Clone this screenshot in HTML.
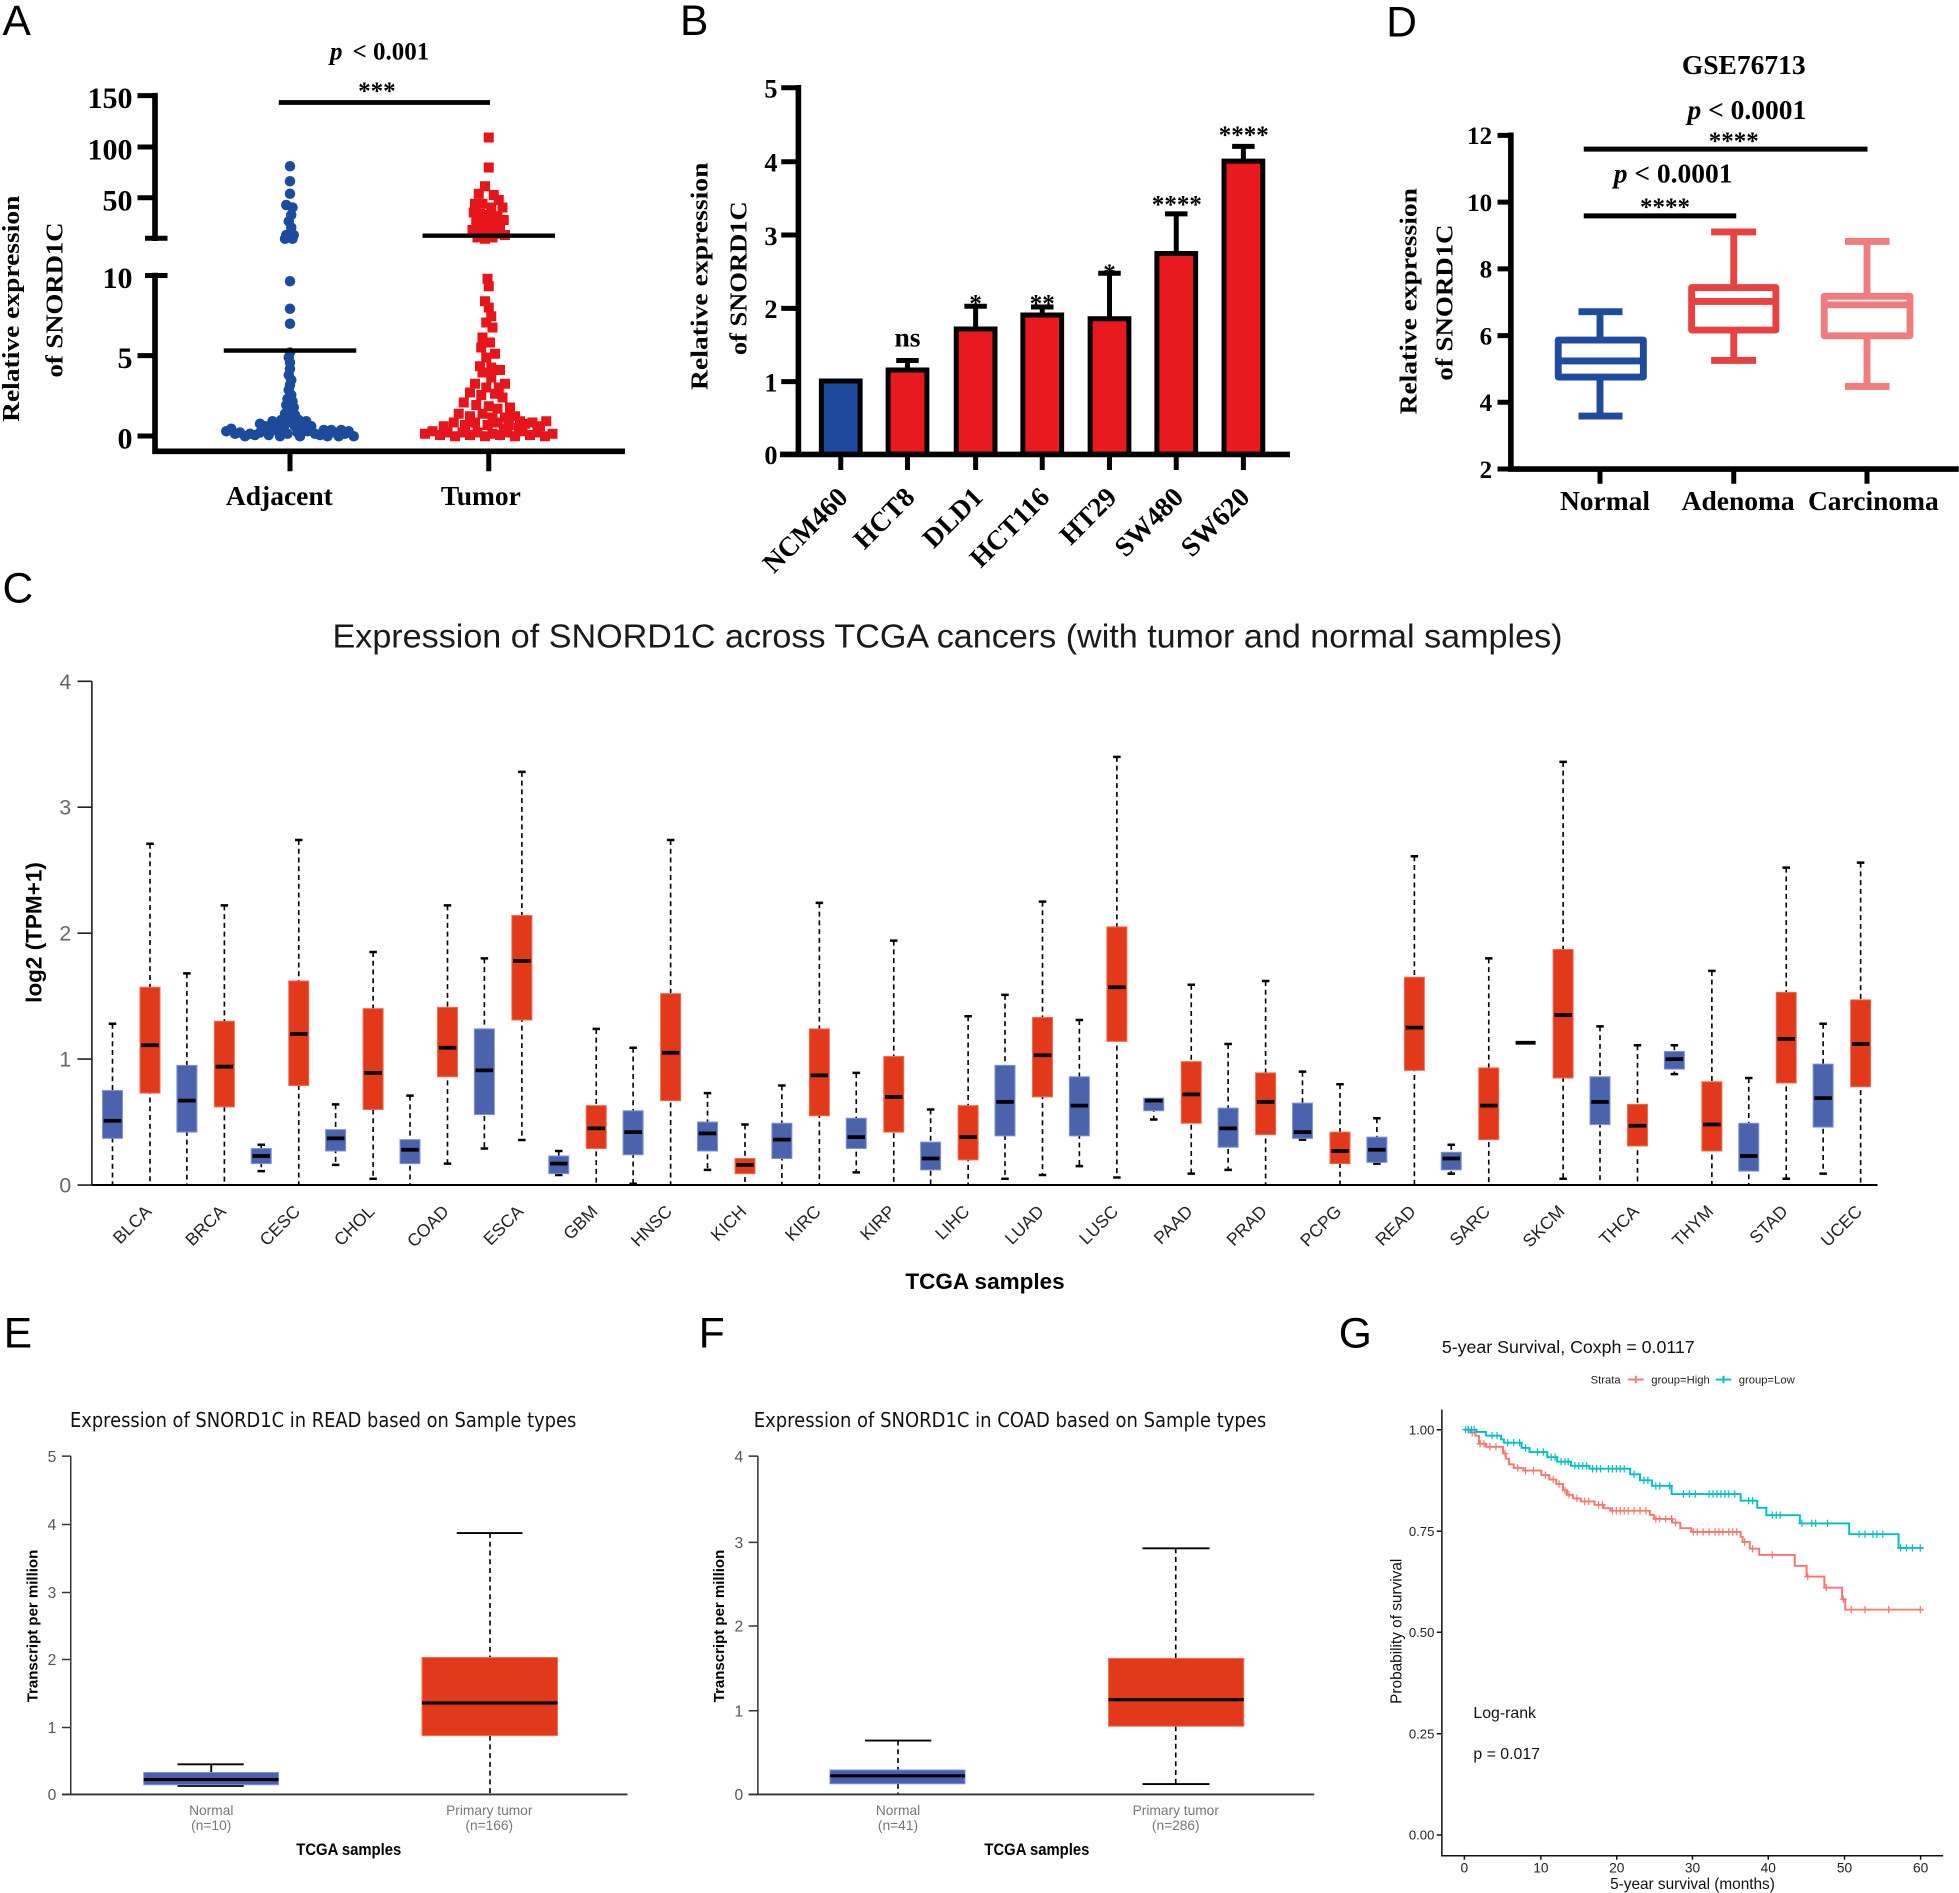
<!DOCTYPE html>
<html><head><meta charset="utf-8"><style>
html,body{margin:0;padding:0;background:#fff;}
svg{display:block}
.sb{font-family:"Liberation Serif",serif;font-weight:bold}
.ss{font-family:"Liberation Sans",sans-serif}
.dj{font-family:"DejaVu Sans","Liberation Sans",sans-serif}
</style></head><body>
<svg xmlns="http://www.w3.org/2000/svg" xmlns:xlink="http://www.w3.org/1999/xlink" width="1959" height="1893" viewBox="0 0 1567.2 1514.4">
<rect width="1567.2" height="1514.4" fill="#fff"/>
<defs><path id="cr" d="M-9,0H9M0,-10V10"/></defs>

<!-- panel letters -->
<g class="ss" font-size="34" fill="#000">
<text x="2" y="28">A</text><text x="544" y="28">B</text><text x="1109" y="29">D</text>
<text x="2" y="482">C</text><text x="3" y="1078">E</text><text x="559" y="1078">F</text><text x="1071" y="1078">G</text>
</g>

<!-- ================= PANEL A ================= -->
<g fill="#1c4b9c">
<circle cx="232" cy="133" r="4.2"/><circle cx="232" cy="145" r="4.2"/><circle cx="232" cy="155" r="4.2"/><circle cx="229" cy="164" r="4.2"/><circle cx="234" cy="166" r="4.2"/><circle cx="233" cy="172" r="4.2"/><circle cx="231" cy="177" r="4.2"/><circle cx="233" cy="182" r="4.2"/><circle cx="229" cy="188" r="4.2"/><circle cx="235" cy="188" r="4.2"/><circle cx="228" cy="191" r="4.2"/><circle cx="234" cy="191" r="4.2"/>
<circle cx="232" cy="225" r="4.2"/><circle cx="232" cy="247" r="4.2"/><circle cx="232" cy="259" r="4.2"/>
<circle cx="232" cy="282" r="4.2"/><circle cx="231" cy="286" r="4.2"/><circle cx="232" cy="290" r="4.2"/><circle cx="232" cy="295" r="4.2"/><circle cx="231" cy="300" r="4.2"/><circle cx="233" cy="304" r="4.2"/><circle cx="232" cy="308" r="4.2"/><circle cx="231" cy="312" r="4.2"/><circle cx="233" cy="316" r="4.2"/><circle cx="230" cy="319" r="4.2"/><circle cx="234" cy="321" r="4.2"/><circle cx="229" cy="324" r="4.2"/><circle cx="235" cy="326" r="4.2"/><circle cx="233" cy="329" r="4.2"/><circle cx="228" cy="331" r="4.2"/><circle cx="236" cy="332" r="4.2"/><circle cx="230" cy="334" r="4.2"/><circle cx="234" cy="336" r="4.2"/>
<circle cx="181" cy="345" r="4.2"/><circle cx="185" cy="343" r="4.2"/><circle cx="188" cy="347" r="4.2"/><circle cx="192" cy="346" r="4.2"/><circle cx="196" cy="349" r="4.2"/><circle cx="200" cy="347" r="4.2"/><circle cx="204" cy="348" r="4.2"/><circle cx="208" cy="346" r="4.2"/><circle cx="208" cy="339" r="4.2"/><circle cx="212" cy="341" r="4.2"/><circle cx="215" cy="348" r="4.2"/><circle cx="219" cy="344" r="4.2"/><circle cx="222" cy="342" r="4.2"/><circle cx="224" cy="349" r="4.2"/><circle cx="226" cy="345" r="4.2"/><circle cx="228" cy="340" r="4.2"/><circle cx="230" cy="347" r="4.2"/><circle cx="236" cy="341" r="4.2"/><circle cx="238" cy="346" r="4.2"/><circle cx="240" cy="349" r="4.2"/><circle cx="242" cy="343" r="4.2"/><circle cx="245" cy="337" r="4.2"/><circle cx="246" cy="345" r="4.2"/><circle cx="249" cy="341" r="4.2"/><circle cx="252" cy="347" r="4.2"/><circle cx="256" cy="348" r="4.2"/><circle cx="259" cy="344" r="4.2"/><circle cx="262" cy="349" r="4.2"/><circle cx="265" cy="344" r="4.2"/><circle cx="268" cy="346" r="4.2"/><circle cx="271" cy="349" r="4.2"/><circle cx="273" cy="344" r="4.2"/><circle cx="276" cy="347" r="4.2"/><circle cx="279" cy="345" r="4.2"/><circle cx="283" cy="349" r="4.2"/><circle cx="218" cy="337" r="4.2"/><circle cx="225" cy="336" r="4.2"/><circle cx="239" cy="336" r="4.2"/><circle cx="244" cy="339" r="4.2"/>
</g>
<g fill="#e8141c">
<rect x="387" y="106" width="8" height="8"/><rect x="387" y="130" width="8" height="8"/><rect x="384" y="145" width="8" height="8"/><rect x="379" y="151" width="8" height="8"/><rect x="391" y="152" width="8" height="8"/><rect x="395" y="156" width="8" height="8"/><rect x="376" y="159" width="8" height="8"/><rect x="382" y="159" width="8" height="8"/><rect x="389" y="162" width="8" height="8"/><rect x="398" y="162" width="8" height="8"/><rect x="375" y="166" width="8" height="8"/><rect x="380" y="167" width="8" height="8"/><rect x="387" y="168" width="8" height="8"/><rect x="394" y="169" width="8" height="8"/><rect x="399" y="172" width="8" height="8"/><rect x="377" y="174" width="8" height="8"/><rect x="384" y="174" width="8" height="8"/><rect x="391" y="176" width="8" height="8"/><rect x="396" y="178" width="8" height="8"/><rect x="374" y="180" width="8" height="8"/><rect x="381" y="181" width="8" height="8"/><rect x="388" y="182" width="8" height="8"/><rect x="395" y="183" width="8" height="8"/><rect x="400" y="184" width="8" height="8"/><rect x="378" y="186" width="8" height="8"/><rect x="384" y="187" width="8" height="8"/><rect x="390" y="186" width="8" height="8"/>
<rect x="386" y="219" width="8" height="8"/><rect x="387" y="225" width="8" height="8"/><rect x="384" y="237" width="8" height="8"/><rect x="387" y="242" width="8" height="8"/><rect x="389" y="249" width="8" height="8"/><rect x="385" y="254" width="8" height="8"/><rect x="390" y="258" width="8" height="8"/><rect x="382" y="266" width="8" height="8"/><rect x="388" y="270" width="8" height="8"/><rect x="381" y="274" width="8" height="8"/><rect x="392" y="279" width="8" height="8"/><rect x="385" y="282" width="8" height="8"/><rect x="380" y="289" width="8" height="8"/><rect x="389" y="290" width="8" height="8"/><rect x="396" y="292" width="8" height="8"/><rect x="382" y="294" width="8" height="8"/><rect x="389" y="298" width="8" height="8"/><rect x="376" y="303" width="8" height="8"/><rect x="385" y="306" width="8" height="8"/><rect x="395" y="306" width="8" height="8"/><rect x="400" y="303" width="8" height="8"/><rect x="372" y="310" width="8" height="8"/><rect x="381" y="312" width="8" height="8"/><rect x="392" y="311" width="8" height="8"/><rect x="398" y="314" width="8" height="8"/><rect x="367" y="318" width="8" height="8"/><rect x="377" y="320" width="8" height="8"/><rect x="387" y="321" width="8" height="8"/><rect x="394" y="323" width="8" height="8"/><rect x="404" y="322" width="8" height="8"/><rect x="363" y="327" width="8" height="8"/><rect x="372" y="329" width="8" height="8"/><rect x="382" y="327" width="8" height="8"/><rect x="390" y="330" width="8" height="8"/><rect x="400" y="330" width="8" height="8"/><rect x="408" y="329" width="8" height="8"/><rect x="412" y="333" width="8" height="8"/><rect x="359" y="334" width="8" height="8"/><rect x="368" y="336" width="8" height="8"/><rect x="376" y="334" width="8" height="8"/><rect x="386" y="336" width="8" height="8"/><rect x="394" y="334" width="8" height="8"/><rect x="403" y="336" width="8" height="8"/><rect x="416" y="335" width="8" height="8"/><rect x="422" y="334" width="8" height="8"/><rect x="428" y="337" width="8" height="8"/><rect x="433" y="333" width="8" height="8"/>
<rect x="336" y="343" width="8" height="8"/><rect x="342" y="341" width="8" height="8"/><rect x="348" y="344" width="8" height="8"/><rect x="354" y="342" width="8" height="8"/><rect x="360" y="345" width="8" height="8"/><rect x="366" y="342" width="8" height="8"/><rect x="372" y="344" width="8" height="8"/><rect x="378" y="342" width="8" height="8"/><rect x="384" y="345" width="8" height="8"/><rect x="390" y="343" width="8" height="8"/><rect x="396" y="344" width="8" height="8"/><rect x="402" y="342" width="8" height="8"/><rect x="408" y="345" width="8" height="8"/><rect x="414" y="341" width="8" height="8"/><rect x="420" y="344" width="8" height="8"/><rect x="426" y="342" width="8" height="8"/><rect x="432" y="345" width="8" height="8"/><rect x="438" y="343" width="8" height="8"/><rect x="351" y="337" width="8" height="8"/><rect x="399" y="339" width="8" height="8"/><rect x="411" y="338" width="8" height="8"/>
</g>
<g stroke="#000" fill="none">
<path d="M124,74.3V192.8M124,218.2V363.3M121.8,361H500" stroke-width="4.5"/>
<path d="M110,76.5H124M110,117.6H124M110,158.2H124M116,190.6H134M116,220.4H134M110,284.5H124M110,348.8H124M232,361V377M391,361V377" stroke-width="4"/>
<path d="M223,82H392" stroke-width="3.8"/>
<path d="M179,280.4H285M338,188.5H444" stroke-width="3.5"/>
</g>
<g class="sb" font-size="24" text-anchor="end" fill="#000">
<text x="106" y="86.5">150</text><text x="106" y="127.6">100</text><text x="106" y="168.2">50</text><text x="106" y="230.4">10</text><text x="106" y="294.5">5</text><text x="106" y="358.8">0</text>
</g>
<text class="sb" font-size="20" x="264" y="47.5"><tspan font-style="italic">p</tspan><tspan dx="8">&lt; 0.001</tspan></text>
<text class="sb" font-size="20" x="301.5" y="79" text-anchor="middle">***</text>
<g class="sb" font-size="22" text-anchor="middle">
<text x="223.5" y="404">Adjacent</text><text x="384.7" y="404">Tumor</text>
<text transform="translate(15,247) rotate(-90)" font-size="19" textLength="181" lengthAdjust="spacingAndGlyphs">Relative expression</text>
<text transform="translate(50,240) rotate(-90)" font-size="19" textLength="124" lengthAdjust="spacingAndGlyphs">of SNORD1C</text>
</g>

<!-- ================= PANEL B ================= -->
<g stroke="#000" stroke-width="4">
<rect x="657.1" y="304.8" width="31" height="58.7" fill="#1e4a9e"/>
<rect x="710.5" y="296" width="31" height="67.5" fill="#e8191f"/>
<rect x="765" y="263.2" width="31" height="100.3" fill="#e8191f"/>
<rect x="818.3" y="252" width="31" height="111.5" fill="#e8191f"/>
<rect x="872.1" y="255" width="31" height="108.5" fill="#e8191f"/>
<rect x="925.5" y="202.8" width="31" height="160.7" fill="#e8191f"/>
<rect x="979.2" y="128.9" width="31" height="234.6" fill="#e8191f"/>
<path fill="none" d="M726,296V288.4M717,288.4H735M780.5,263.2V245M771.5,245H789.5M833.8,252V245.6M824.8,245.6H842.8M887.6,255V218.6M878.6,218.6H896.6M941,202.8V171.1M932,171.1H950M994.7,128.9V117.1M985.7,117.1H1003.7"/>
<path fill="none" stroke-width="4.5" d="M638.7,68V365.7M624,363.5H1032"/>
<path fill="none" d="M625,70.2H638.7M625,129.4H638.7M625,188H638.7M625,246.7H638.7M625,305.3H638.7M625,363.5H638.7M672.6,363.5V376M726,363.5V376M780.5,363.5V376M833.8,363.5V376M887.6,363.5V376M941,363.5V376M994.7,363.5V376"/>
</g>
<g class="sb" font-size="21" text-anchor="end">
<text x="622" y="78">5</text><text x="622" y="137.2">4</text><text x="622" y="195.8">3</text><text x="622" y="254.5">2</text><text x="622" y="313.1">1</text><text x="622" y="371.3">0</text>
</g>
<g class="sb" font-size="20" text-anchor="middle">
<text x="726" y="277" font-size="22">ns</text>
<text x="780.5" y="249">*</text><text x="833.8" y="249">**</text><text x="887.6" y="224.6">*</text>
<text x="941.5" y="170">****</text><text x="995" y="114.4">****</text>
</g>
<g class="sb" font-size="22" text-anchor="end">
<text transform="translate(679.5,399) rotate(-45)">NCM460</text>
<text transform="translate(733,399) rotate(-45)">HCT8</text>
<text transform="translate(787.5,399) rotate(-45)">DLD1</text>
<text transform="translate(840.8,399) rotate(-45)">HCT116</text>
<text transform="translate(894.6,399) rotate(-45)">HT29</text>
<text transform="translate(948,399) rotate(-45)">SW480</text>
<text transform="translate(1001,399) rotate(-45)">SW620</text>
</g>
<g class="sb" text-anchor="middle">
<text transform="translate(566,221) rotate(-90)" font-size="19" textLength="182" lengthAdjust="spacingAndGlyphs">Relative expression</text>
<text transform="translate(597,222.6) rotate(-90)" font-size="19" textLength="123" lengthAdjust="spacingAndGlyphs">of SNORD1C</text>
</g>

<!-- ================= PANEL D ================= -->
<text class="sb" font-size="22" x="1395" y="59.2" text-anchor="middle">GSE76713</text>
<g stroke="#000" fill="none">
<path stroke-width="4.5" d="M1208.7,106V377.5M1206.5,375.2H1567"/>
<path stroke-width="4" d="M1198,108.3H1208.7M1198,161.7H1208.7M1198,215.1H1208.7M1198,268.5H1208.7M1198,321.8H1208.7M1198,375.2H1208.7M1280,375.2V387M1387,375.2V387M1493.6,375.2V387"/>
<path stroke-width="4" d="M1267,119.3H1494M1267,172.7H1389"/>
</g>
<g class="sb" font-size="20" text-anchor="end">
<text x="1193.7" y="115.3">12</text><text x="1193.7" y="168.7">10</text><text x="1193.7" y="222.1">8</text><text x="1193.7" y="275.5">6</text><text x="1193.7" y="328.8">4</text><text x="1193.7" y="382.2">2</text>
</g>
<g class="sb" font-size="22">
<text x="1350" y="95"><tspan font-style="italic">p</tspan> &lt; 0.0001</text>
<text x="1291" y="146"><tspan font-style="italic">p</tspan> &lt; 0.0001</text>
</g>
<g class="sb" font-size="20" text-anchor="middle">
<text x="1387" y="119">****</text><text x="1332" y="172">****</text>
</g>
<g class="sb" font-size="22" text-anchor="middle">
<text x="1284" y="408">Normal</text><text x="1390.5" y="408">Adenoma</text><text x="1498.7" y="408">Carcinoma</text>
<text transform="translate(1133,241) rotate(-90)" font-size="19" textLength="181" lengthAdjust="spacingAndGlyphs">Relative expression</text>
<text transform="translate(1162,242) rotate(-90)" font-size="19" textLength="125" lengthAdjust="spacingAndGlyphs">of SNORD1C</text>
</g>
<g fill="none" stroke-width="5.5" stroke-linejoin="round">
<g stroke="#1f4aa0">
<path d="M1280,249.3V272M1280,301.6V332.8M1262.8,249.3H1298M1262.8,332.8H1298M1246.6,288.7H1314.7"/>
<rect x="1246.6" y="272" width="68.1" height="29.6"/>
</g>
<g stroke="#e84142">
<path d="M1387,185.5V230M1387,264V288.3M1368.9,185.5H1404.9M1368.9,288.3H1404.9M1353.3,241.1H1420.7"/>
<rect x="1353.3" y="230" width="67.4" height="34"/>
</g>
<g stroke="#ef7d7d">
<path d="M1493.6,193.1V237M1493.6,268.6V309.1M1476,193.1H1511.6M1476,309.1H1511.6M1459.4,243.8H1528"/>
<rect x="1459.4" y="237" width="68.6" height="31.6"/>
</g>
</g>

<!-- ================= PANEL C ================= -->
<text class="ss" font-size="26.5" x="266" y="518" fill="#1a1a1a" textLength="984" lengthAdjust="spacingAndGlyphs">Expression of SNORD1C across TCGA cancers (with tumor and normal samples)</text>
<g stroke="#000" fill="none">
<path stroke-width="1.3" stroke="#222" d="M73.5,545V948M62,545H73.5M62,645.75H73.5M62,746.5H73.5M62,847.25H73.5M62,948H73.5"/>
</g>
<g class="ss" font-size="17" fill="#666" text-anchor="end">
<text x="57" y="551">4</text><text x="57" y="651.7">3</text><text x="57" y="752.5">2</text><text x="57" y="853.2">1</text><text x="57" y="954">0</text>
</g>
<text class="ss" font-weight="bold" font-size="18" transform="translate(33,746) rotate(-90)" text-anchor="middle">log2 (TPM+1)</text>
<path fill="none" stroke="#000" stroke-width="1.3" stroke-dasharray="4 3" d="M90,819V948 M120,675V948 M149.5,778.7V948 M179.5,724.3V948 M209,915.8V936.9 M239,672V948 M268.5,883.5V931.9 M298.5,761.6V943 M328,876.5V948 M358,724.3V930.9 M387.5,766.7V918.8 M417.5,617.5V912 M447,920.8V940 M477,823.1V948 M506.5,838.2V947 M536.5,672V948 M566,874.5V935.9 M596,899.6V948 M625.5,868.4V948 M655.5,722.3V948 M685,858.3V937.9 M715,752.5V948 M744.5,887.6V948 M774.5,813V948 M804,795.9V943 M834,721.3V940 M863.5,816V932.9 M893.5,605.5V942 M923,878.5V895.6 M953,787.8V938.9 M982.5,835.2V935.9 M1012.5,784.8V948 M1042,857.3V911.7 M1072,867.4V948 M1101.5,894.6V930.9 M1131.5,685V948 M1161,915.8V938.9 M1191,766.7V948 M1250.5,609.5V943 M1280,821.1V948 M1310,836.2V948 M1339.5,836.2V859.3 M1369.5,776.7V948 M1399,862.4V948 M1429,694.1V943 M1458.5,819V938.9 M1488.5,690.1V948"/>
<path fill="none" stroke="#000" stroke-width="2" d="M87,819h6 M117,675h6 M146.5,778.7h6 M176.5,724.3h6 M206,915.8h6 M206,936.9h6 M236,672h6 M265.5,883.5h6 M265.5,931.9h6 M295.5,761.6h6 M295.5,943h6 M325,876.5h6 M355,724.3h6 M355,930.9h6 M384.5,766.7h6 M384.5,918.8h6 M414.5,617.5h6 M414.5,912h6 M444,920.8h6 M444,940h6 M474,823.1h6 M503.5,838.2h6 M503.5,947h6 M533.5,672h6 M563,874.5h6 M563,935.9h6 M593,899.6h6 M622.5,868.4h6 M652.5,722.3h6 M682,858.3h6 M682,937.9h6 M712,752.5h6 M741.5,887.6h6 M771.5,813h6 M801,795.9h6 M801,943h6 M831,721.3h6 M831,940h6 M860.5,816h6 M860.5,932.9h6 M890.5,605.5h6 M890.5,942h6 M920,895.6h6 M950,787.8h6 M950,938.9h6 M979.5,835.2h6 M979.5,935.9h6 M1009.5,784.8h6 M1039,857.3h6 M1039,911.7h6 M1069,867.4h6 M1098.5,894.6h6 M1098.5,930.9h6 M1128.5,685h6 M1158,915.8h6 M1158,938.9h6 M1188,766.7h6 M1247.5,609.5h6 M1247.5,943h6 M1277,821.1h6 M1307,836.2h6 M1336.5,836.2h6 M1336.5,859.3h6 M1366.5,776.7h6 M1396,862.4h6 M1426,694.1h6 M1426,943h6 M1455.5,819h6 M1455.5,938.9h6 M1485.5,690.1h6"/>
<g fill="#4b62ad" stroke="#8193d6" stroke-width="0.8">
<rect x="82" y="872.4" width="16" height="38.3"/><rect x="141.5" y="852.3" width="16" height="53.4"/><rect x="201" y="918.8" width="16" height="12.1"/><rect x="260.5" y="903.7" width="16" height="17.1"/><rect x="320" y="911.7" width="16" height="19.2"/><rect x="379.5" y="823.1" width="16" height="68.5"/><rect x="439" y="924.8" width="16" height="14.1"/><rect x="498.5" y="888.6" width="16" height="35.2"/><rect x="558" y="897.6" width="16" height="23.2"/><rect x="617.5" y="898.6" width="16" height="28.2"/><rect x="677" y="894.6" width="16" height="24.2"/><rect x="736.5" y="913.7" width="16" height="22.2"/><rect x="796" y="852.3" width="16" height="56.4"/><rect x="855.5" y="861.4" width="16" height="47.3"/><rect x="915" y="878.5" width="16" height="10.1"/><rect x="974.5" y="886.5" width="16" height="31.3"/><rect x="1034" y="882.5" width="16" height="28.2"/><rect x="1093.5" y="909.7" width="16" height="20.2"/><rect x="1153" y="921.8" width="16" height="14.1"/><rect x="1272" y="861.4" width="16" height="38.2"/><rect x="1331.5" y="841.2" width="16" height="14.1"/><rect x="1391" y="898.6" width="16" height="38.3"/><rect x="1450.5" y="851.3" width="16" height="50.4"/>
</g>
<g fill="#e1391a" stroke="#f06d50" stroke-width="0.8">
<rect x="112" y="789.8" width="16" height="84.7"/><rect x="171.5" y="817" width="16" height="68.5"/><rect x="231" y="784.8" width="16" height="83.6"/><rect x="290.5" y="806.9" width="16" height="80.7"/><rect x="350" y="805.9" width="16" height="55.5"/><rect x="409.5" y="732.4" width="16" height="83.6"/><rect x="469" y="884.5" width="16" height="34.3"/><rect x="528.5" y="794.9" width="16" height="85.6"/><rect x="588" y="926.8" width="16" height="12.1"/><rect x="647.5" y="823.1" width="16" height="69.5"/><rect x="707" y="845.2" width="16" height="60.5"/><rect x="766.5" y="884.5" width="16" height="43.4"/><rect x="826" y="814" width="16" height="63.5"/><rect x="885.5" y="741.5" width="16" height="91.6"/><rect x="945" y="849.3" width="16" height="49.3"/><rect x="1004.5" y="858.3" width="16" height="49.4"/><rect x="1064" y="905.7" width="16" height="25.2"/><rect x="1123.5" y="781.8" width="16" height="74.5"/><rect x="1183" y="854.3" width="16" height="57.4"/><rect x="1242.5" y="759.6" width="16" height="102.8"/><rect x="1302" y="883.5" width="16" height="33.3"/><rect x="1361.5" y="865.4" width="16" height="55.4"/><rect x="1421" y="793.9" width="16" height="72.5"/><rect x="1480.5" y="799.9" width="16" height="69.5"/>
</g>
<path fill="none" stroke="#000" stroke-width="3" d="M83,896.6h14 M142.5,880.5h14 M202,924.8h14 M261.5,910.7h14 M321,919.8h14 M380.5,856.3h14 M440,930.9h14 M499.5,905.7h14 M559,906.7h14 M618.5,911.7h14 M678,909.7h14 M737.5,926.8h14 M797,881.5h14 M856.5,884.5h14 M916,880.5h14 M975.5,902.7h14 M1035,905.7h14 M1094.5,919.8h14 M1154,926.8h14 M1212.5,834.2h16 M1273,881.5h14 M1332.5,847.3h14 M1392,924.8h14 M1451.5,878.5h14 M113,836.2h14 M172.5,853.3h14 M232,827.1h14 M291.5,858.3h14 M351,838.2h14 M410.5,768.7h14 M470,902.7h14 M529.5,842.2h14 M589,931.9h14 M648.5,860.3h14 M708,877.5h14 M767.5,909.7h14 M827,844.2h14 M886.5,789.8h14 M946,875.5h14 M1005.5,881.5h14 M1065,920.8h14 M1124.5,822.1h14 M1184,884.5h14 M1243.5,812h14 M1303,900.6h14 M1362.5,899.6h14 M1422,831.1h14 M1481.5,835.2h14"/>
<path stroke="#000" stroke-width="1.6" d="M73.5,948H1502"/>
<g class="ss" font-size="14" fill="#222" text-anchor="end">
<text transform="translate(122,970) rotate(-45)">BLCA</text><text transform="translate(181.5,970) rotate(-45)">BRCA</text><text transform="translate(241,970) rotate(-45)">CESC</text><text transform="translate(300.5,970) rotate(-45)">CHOL</text><text transform="translate(360,970) rotate(-45)">COAD</text><text transform="translate(419.5,970) rotate(-45)">ESCA</text><text transform="translate(479,970) rotate(-45)">GBM</text><text transform="translate(538.5,970) rotate(-45)">HNSC</text><text transform="translate(598,970) rotate(-45)">KICH</text><text transform="translate(657.5,970) rotate(-45)">KIRC</text><text transform="translate(717,970) rotate(-45)">KIRP</text><text transform="translate(776.5,970) rotate(-45)">LIHC</text><text transform="translate(836,970) rotate(-45)">LUAD</text><text transform="translate(895.5,970) rotate(-45)">LUSC</text><text transform="translate(955,970) rotate(-45)">PAAD</text><text transform="translate(1014.5,970) rotate(-45)">PRAD</text><text transform="translate(1074,970) rotate(-45)">PCPG</text><text transform="translate(1133.5,970) rotate(-45)">READ</text><text transform="translate(1193,970) rotate(-45)">SARC</text><text transform="translate(1252.5,970) rotate(-45)">SKCM</text><text transform="translate(1312,970) rotate(-45)">THCA</text><text transform="translate(1371.5,970) rotate(-45)">THYM</text><text transform="translate(1431,970) rotate(-45)">STAD</text><text transform="translate(1490.5,970) rotate(-45)">UCEC</text>
</g>
<text class="ss" font-weight="bold" font-size="18" x="788" y="1031" text-anchor="middle">TCGA samples</text>

<!-- ================= PANEL E ================= -->
<text class="dj" font-size="16" x="56" y="1141.7" fill="#111" textLength="405" lengthAdjust="spacingAndGlyphs">Expression of SNORD1C in READ based on Sample types</text>
<g stroke="#333" fill="none" stroke-width="1.2">
<path d="M56.6,1164.9V1435.5M49.6,1164.9H56.6M49.6,1219.6H56.6M49.6,1274H56.6M49.6,1327.6H56.6M49.6,1382H56.6M49.6,1435.5H56.6"/>
</g>
<g class="ss" font-size="12.5" fill="#555" text-anchor="end">
<text x="45" y="1169.4">5</text><text x="45" y="1224.1">4</text><text x="45" y="1278.5">3</text><text x="45" y="1332.1">2</text><text x="45" y="1386.5">1</text><text x="45" y="1440">0</text>
</g>
<path stroke="#000" stroke-width="1.5" d="M169,1411.4V1418M169,1427.8V1428.7M142,1411.4H195M142,1428.7H195"/>
<rect x="115" y="1418" width="107.8" height="9.8" fill="#4b5fad" stroke="#7f90d4" stroke-width="0.8"/>
<path stroke="#000" stroke-width="2.5" d="M115,1423.6H222.8"/>
<path stroke="#000" stroke-width="1.3" stroke-dasharray="4 3" d="M392,1226.4V1326M392,1388.5V1435.5"/>
<path stroke="#000" stroke-width="1.5" d="M365.4,1226.4H418"/>
<rect x="337.6" y="1326" width="108.4" height="62.5" fill="#e1391a" stroke="#f27458" stroke-width="0.8"/>
<path stroke="#000" stroke-width="2.5" d="M337.6,1362.3H446"/>
<path stroke="#333" stroke-width="1.5" d="M49.6,1435.5H502"/>
<g class="ss" font-size="11" fill="#777" text-anchor="middle">
<text x="169" y="1452">Normal</text><text x="169" y="1464">(n=10)</text>
<text x="391.4" y="1452">Primary tumor</text><text x="391.4" y="1464">(n=166)</text>
</g>
<text class="ss" font-weight="bold" font-size="13" x="279" y="1484" text-anchor="middle" textLength="84" lengthAdjust="spacingAndGlyphs">TCGA samples</text>
<text class="ss" font-weight="bold" font-size="12" transform="translate(30,1300.8) rotate(-90)" text-anchor="middle" textLength="122" lengthAdjust="spacingAndGlyphs">Transcript per million</text>

<!-- ================= PANEL F ================= -->
<text class="dj" font-size="16" x="603" y="1141.7" fill="#111" textLength="410" lengthAdjust="spacingAndGlyphs">Expression of SNORD1C in COAD based on Sample types</text>
<g stroke="#333" fill="none" stroke-width="1.2">
<path d="M606.3,1164.9V1435.5M598.9,1164.9H606.3M598.9,1233.9H606.3M598.9,1300.8H606.3M598.9,1368.6H606.3M598.9,1435.5H606.3"/>
</g>
<g class="ss" font-size="12.5" fill="#555" text-anchor="end">
<text x="594.5" y="1169.4">4</text><text x="594.5" y="1238.4">3</text><text x="594.5" y="1305.3">2</text><text x="594.5" y="1373.1">1</text><text x="594.5" y="1440">0</text>
</g>
<path stroke="#000" stroke-width="1.3" stroke-dasharray="4 3" d="M718.4,1392.4V1416M718.4,1427V1435.5M940.6,1238.6V1326.7M940.6,1381V1427.2"/>
<path stroke="#000" stroke-width="1.5" d="M692,1392.4H745M914,1238.6H967.6M914,1427.2H967.6"/>
<rect x="664" y="1416" width="108" height="11" fill="#4b5fad" stroke="#7f90d4" stroke-width="0.8"/>
<path stroke="#000" stroke-width="2.5" d="M664,1420.6H772"/>
<rect x="886.8" y="1326.7" width="108.2" height="54.3" fill="#e1391a" stroke="#f27458" stroke-width="0.8"/>
<path stroke="#000" stroke-width="2.5" d="M886.8,1359.7H995"/>
<path stroke="#333" stroke-width="1.5" d="M598.9,1435.5H1051.4"/>
<g class="ss" font-size="11" fill="#777" text-anchor="middle">
<text x="718.4" y="1452">Normal</text><text x="718.4" y="1464">(n=41)</text>
<text x="940.6" y="1452">Primary tumor</text><text x="940.6" y="1464">(n=286)</text>
</g>
<text class="ss" font-weight="bold" font-size="13" x="829.5" y="1484" text-anchor="middle" textLength="84" lengthAdjust="spacingAndGlyphs">TCGA samples</text>
<text class="ss" font-weight="bold" font-size="12" transform="translate(579,1300.8) rotate(-90)" text-anchor="middle" textLength="122" lengthAdjust="spacingAndGlyphs">Transcript per million</text>

<!-- ================= PANEL G ================= -->
<text class="ss" font-size="14.2" x="1153.5" y="1082.2" fill="#111">5-year Survival, Coxph = 0.0117</text>
<g class="ss" font-size="9" fill="#222">
<text x="1272.5" y="1106.6">Strata</text>
<text x="1321" y="1106.6">group=High</text>
<text x="1391" y="1106.6">group=Low</text>
</g>
<path stroke="#F8766D" stroke-width="1.5" d="M1302.5,1103.6H1315M1308.7,1100.6V1106.6"/>
<path stroke="#00BFC4" stroke-width="1.5" d="M1372.6,1103.6H1385M1378.8,1100.6V1106.6"/>
<g stroke="#111" fill="none" stroke-width="1.2">
<path d="M1153.5,1127.7V1484.6H1554.5"/>
<path d="M1149.4,1143.8H1153.5M1149.4,1225H1153.5M1149.4,1305.8H1153.5M1149.4,1387H1153.5M1149.4,1468H1153.5"/>
<path d="M1171.5,1484.6V1487.8M1232.7,1484.6V1487.8M1293.4,1484.6V1487.8M1354,1484.6V1487.8M1414.6,1484.6V1487.8M1475.6,1484.6V1487.8M1536.5,1484.6V1487.8"/>
</g>
<g class="ss" font-size="10.5" fill="#222" text-anchor="end">
<text x="1147.5" y="1147.5">1.00</text><text x="1147.5" y="1228.7">0.75</text><text x="1147.5" y="1309.5">0.50</text><text x="1147.5" y="1390.7">0.25</text><text x="1147.5" y="1471.7">0.00</text>
</g>
<g class="ss" font-size="11" fill="#222" text-anchor="middle">
<text x="1171.5" y="1498">0</text><text x="1232.7" y="1498">10</text><text x="1293.4" y="1498">20</text><text x="1354" y="1498">30</text><text x="1414.6" y="1498">40</text><text x="1475.6" y="1498">50</text><text x="1536.5" y="1498">60</text>
</g>
<text class="ss" font-size="12.3" x="1354" y="1511" text-anchor="middle" fill="#111">5-year survival (months)</text>
<text class="ss" font-size="12.3" transform="translate(1121,1305) rotate(-90)" text-anchor="middle" fill="#111">Probability of survival</text>
<text class="ss" font-size="12.7" x="1178.7" y="1374.5" fill="#111">Log-rank</text>
<text class="ss" font-size="12.7" x="1178.7" y="1407.3" fill="#111">p = 0.017</text>
<g transform="translate(1072,1048) scale(0.3158,0.2974)" fill="none">
<path stroke="#F8766D" stroke-width="5" d="M315,322H330V330H343V338H352V360H370V368H413V386H420V400H428V415H440V425H465V432H510V444H530V456H548V468H565V485H575V497H590V507H610V515H645V524H668V533H685V540H785V551H795V562H842V572H862V587H890V597H1015V610H1020V624H1038V642H1062V659H1152V688H1182V717H1227V747H1272V778H1280V806H1478"/>
<path stroke="#00BFC4" stroke-width="5" d="M315,322H345V328H370V338H408V348H415V357H460V371H480V382H525V396H550V408H585V419H632V427H735V442H760V458H790V473H840V495H1015V513H1057V532H1080V552H1165V574H1290V603H1415V640H1478"/>
<g stroke="#F8766D" stroke-width="3">
<use xlink:href="#cr" x="325" y="322"/><use xlink:href="#cr" x="335" y="330"/><use xlink:href="#cr" x="355" y="360"/><use xlink:href="#cr" x="365" y="360"/><use xlink:href="#cr" x="380" y="368"/><use xlink:href="#cr" x="395" y="368"/><use xlink:href="#cr" x="418" y="386"/><use xlink:href="#cr" x="450" y="425"/><use xlink:href="#cr" x="470" y="432"/><use xlink:href="#cr" x="490" y="432"/><use xlink:href="#cr" x="520" y="444"/><use xlink:href="#cr" x="540" y="456"/><use xlink:href="#cr" x="555" y="468"/><use xlink:href="#cr" x="570" y="485"/><use xlink:href="#cr" x="580" y="497"/><use xlink:href="#cr" x="600" y="507"/><use xlink:href="#cr" x="620" y="515"/><use xlink:href="#cr" x="630" y="515"/><use xlink:href="#cr" x="655" y="524"/><use xlink:href="#cr" x="665" y="524"/><use xlink:href="#cr" x="690" y="540"/><use xlink:href="#cr" x="700" y="540"/><use xlink:href="#cr" x="710" y="540"/><use xlink:href="#cr" x="720" y="540"/><use xlink:href="#cr" x="730" y="540"/><use xlink:href="#cr" x="745" y="540"/><use xlink:href="#cr" x="760" y="540"/><use xlink:href="#cr" x="775" y="540"/><use xlink:href="#cr" x="800" y="562"/><use xlink:href="#cr" x="810" y="562"/><use xlink:href="#cr" x="825" y="562"/><use xlink:href="#cr" x="840" y="562"/><use xlink:href="#cr" x="850" y="572"/><use xlink:href="#cr" x="895" y="597"/><use xlink:href="#cr" x="905" y="597"/><use xlink:href="#cr" x="920" y="597"/><use xlink:href="#cr" x="935" y="597"/><use xlink:href="#cr" x="950" y="597"/><use xlink:href="#cr" x="960" y="597"/><use xlink:href="#cr" x="970" y="597"/><use xlink:href="#cr" x="985" y="597"/><use xlink:href="#cr" x="995" y="597"/><use xlink:href="#cr" x="1005" y="597"/><use xlink:href="#cr" x="1025" y="624"/><use xlink:href="#cr" x="1045" y="642"/><use xlink:href="#cr" x="1095" y="659"/><use xlink:href="#cr" x="1185" y="717"/><use xlink:href="#cr" x="1232" y="747"/><use xlink:href="#cr" x="1275" y="778"/><use xlink:href="#cr" x="1295" y="806"/><use xlink:href="#cr" x="1330" y="806"/><use xlink:href="#cr" x="1390" y="806"/><use xlink:href="#cr" x="1470" y="806"/>
</g>
<g stroke="#00BFC4" stroke-width="3">
<use xlink:href="#cr" x="318" y="322"/><use xlink:href="#cr" x="325" y="322"/><use xlink:href="#cr" x="333" y="322"/><use xlink:href="#cr" x="340" y="322"/><use xlink:href="#cr" x="385" y="338"/><use xlink:href="#cr" x="398" y="338"/><use xlink:href="#cr" x="425" y="357"/><use xlink:href="#cr" x="440" y="357"/><use xlink:href="#cr" x="455" y="357"/><use xlink:href="#cr" x="470" y="371"/><use xlink:href="#cr" x="500" y="382"/><use xlink:href="#cr" x="515" y="382"/><use xlink:href="#cr" x="535" y="396"/><use xlink:href="#cr" x="545" y="396"/><use xlink:href="#cr" x="560" y="408"/><use xlink:href="#cr" x="570" y="408"/><use xlink:href="#cr" x="578" y="408"/><use xlink:href="#cr" x="595" y="419"/><use xlink:href="#cr" x="605" y="419"/><use xlink:href="#cr" x="615" y="419"/><use xlink:href="#cr" x="625" y="419"/><use xlink:href="#cr" x="640" y="427"/><use xlink:href="#cr" x="650" y="427"/><use xlink:href="#cr" x="660" y="427"/><use xlink:href="#cr" x="680" y="427"/><use xlink:href="#cr" x="690" y="427"/><use xlink:href="#cr" x="700" y="427"/><use xlink:href="#cr" x="710" y="427"/><use xlink:href="#cr" x="720" y="427"/><use xlink:href="#cr" x="745" y="442"/><use xlink:href="#cr" x="770" y="458"/><use xlink:href="#cr" x="780" y="458"/><use xlink:href="#cr" x="800" y="473"/><use xlink:href="#cr" x="810" y="473"/><use xlink:href="#cr" x="835" y="473"/><use xlink:href="#cr" x="870" y="495"/><use xlink:href="#cr" x="885" y="495"/><use xlink:href="#cr" x="900" y="495"/><use xlink:href="#cr" x="935" y="495"/><use xlink:href="#cr" x="945" y="495"/><use xlink:href="#cr" x="955" y="495"/><use xlink:href="#cr" x="965" y="495"/><use xlink:href="#cr" x="975" y="495"/><use xlink:href="#cr" x="985" y="495"/><use xlink:href="#cr" x="1000" y="495"/><use xlink:href="#cr" x="1035" y="513"/><use xlink:href="#cr" x="1045" y="513"/><use xlink:href="#cr" x="1095" y="552"/><use xlink:href="#cr" x="1105" y="552"/><use xlink:href="#cr" x="1115" y="552"/><use xlink:href="#cr" x="1170" y="574"/><use xlink:href="#cr" x="1195" y="574"/><use xlink:href="#cr" x="1205" y="574"/><use xlink:href="#cr" x="1235" y="574"/><use xlink:href="#cr" x="1315" y="603"/><use xlink:href="#cr" x="1330" y="603"/><use xlink:href="#cr" x="1350" y="603"/><use xlink:href="#cr" x="1360" y="603"/><use xlink:href="#cr" x="1375" y="603"/><use xlink:href="#cr" x="1420" y="640"/><use xlink:href="#cr" x="1435" y="640"/><use xlink:href="#cr" x="1450" y="640"/><use xlink:href="#cr" x="1470" y="640"/>
</g>
</g>
</svg>
</body></html>
